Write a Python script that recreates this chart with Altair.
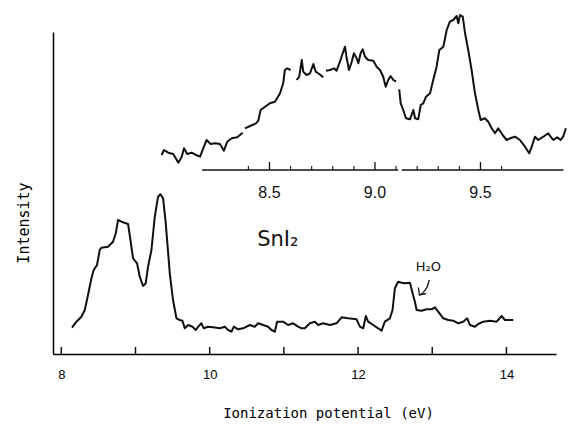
import altair as alt
import pandas as pd

# ---------------- data ----------------
# main spectrum: ionization potential (eV), intensity (arb.)
main_e = [8.144, 8.204, 8.271, 8.316, 8.360, 8.406, 8.437, 8.481, 8.518, 8.541, 8.630, 8.697,
          8.734, 8.765, 8.811, 8.900, 8.932, 8.967, 9.021, 9.057, 9.102, 9.138, 9.169, 9.215,
          9.260, 9.304, 9.336, 9.372, 9.408, 9.462, 9.506, 9.552, 9.597, 9.633, 9.664, 9.709,
          9.768, 9.813, 9.844, 9.889, 9.920, 9.978, 10.046, 10.136, 10.204, 10.248, 10.294,
          10.325, 10.383, 10.450, 10.541, 10.608, 10.653, 10.720, 10.788, 10.833, 10.878,
          10.909, 10.990, 11.057, 11.125, 11.192, 11.238, 11.283, 11.350, 11.418, 11.462,
          11.529, 11.620, 11.710, 11.778, 11.866, 11.980, 12.024, 12.069, 12.105, 12.136,
          12.204, 12.271, 12.317, 12.361, 12.429, 12.465, 12.496, 12.541, 12.587, 12.631,
          12.699, 12.735, 12.766, 12.789, 12.856, 12.924, 12.991, 13.036, 13.080, 13.148,
          13.215, 13.283, 13.350, 13.417, 13.471, 13.508, 13.575, 13.620, 13.687, 13.777,
          13.868, 13.935, 13.980, 14.047, 14.092]
main_i = [26.3, 32.3, 37.3, 44, 59, 75.7, 84, 89, 104, 106.3, 107.3, 112.3,
          120.7, 134, 132.3, 130, 114, 95.7, 90.7, 77.3, 68, 70.7, 87.3, 104,
          137.3, 157.3, 159.7, 155.7, 130.7, 80.7, 54, 35.7, 34, 33.3, 25.7, 29,
          27.3, 24, 27.3, 30.7, 25.7, 27.3, 26.7, 25.7, 27.3, 24, 22.3,
          27.3, 24.7, 25.7, 29, 27.3, 30.7, 29, 27.3, 24, 22.3,
          32.3, 32.3, 29, 30.7, 27.3, 25.7, 25.7, 30.7, 32.3, 29,
          30.7, 29, 30.7, 36.7, 35.7, 34.7, 27.3, 25.7, 38, 32.3,
          29, 25.7, 23.3, 32.3, 35.7, 44, 65.7, 72.3, 71.3, 70.7,
          71.3, 60.7, 52.3, 44, 43.3, 44.7, 44.7, 46.7, 42.3, 35.7,
          34, 33.3, 30.7, 32.3, 35.7, 29, 27.3, 30, 32.3, 33.3,
          32.3, 38, 34, 34, 34]

# inset (expanded 8-10 eV region), pen strokes numbered by segment
inset_seg = [1] * 21 + [2] * 13 + [3] * 10 + [4] * 26 + [5] * 51
inset_e = [7.989, 8.000, 8.020, 8.044, 8.068, 8.084, 8.095, 8.110, 8.131, 8.152, 8.171, 8.186,
           8.202, 8.221, 8.242, 8.265, 8.284, 8.300, 8.321, 8.347, 8.373,
           8.384, 8.408, 8.436, 8.447, 8.458, 8.479, 8.502, 8.526, 8.550, 8.565, 8.573, 8.584, 8.600,
           8.629, 8.641, 8.653, 8.660, 8.676, 8.692, 8.708, 8.719, 8.736, 8.755,
           8.768, 8.787, 8.806, 8.818, 8.834, 8.847, 8.858, 8.866, 8.877, 8.890, 8.900, 8.913,
           8.921, 8.932, 8.942, 8.953, 8.968, 8.992, 9.008, 9.024, 9.039, 9.051, 9.063, 9.074,
           9.087, 9.100,
           9.115, 9.122, 9.134, 9.147, 9.166, 9.182, 9.190, 9.205, 9.217, 9.229, 9.242, 9.261,
           9.276, 9.292, 9.305, 9.324, 9.340, 9.355, 9.371, 9.387, 9.395, 9.403, 9.416, 9.427,
           9.442, 9.458, 9.474, 9.490, 9.501, 9.521, 9.537, 9.553, 9.569, 9.584, 9.605, 9.624,
           9.640, 9.664, 9.687, 9.711, 9.731, 9.743, 9.758, 9.774, 9.798, 9.821, 9.845, 9.864,
           9.880, 9.892, 9.905]
inset_i = [15, 20, 17.3, 16, 7.3, 13.3, 21.7, 16, 17.3, 15, 13.3, 21.7,
           30, 26, 26.7, 26, 19.3, 28.3, 31.7, 32.7, 37.3,
           41.7, 44, 46.7, 49.3, 60, 63.3, 66.7, 68.3, 76.7, 86.7, 100, 101.7, 100,
           90, 93.3, 110, 98.3, 95, 96.7, 106, 98.3, 96, 92.7,
           99.3, 100, 101.7, 99.3, 108.3, 116.7, 123.3, 111.7, 100, 108.3, 116.7, 111.7,
           106.7, 116.7, 120.7, 113.3, 110, 109.3, 103.3, 100, 93.3, 83.3, 90, 94,
           90, 88.3,
           80.7, 66.7, 60, 51.7, 50.7, 60, 51.7, 50.7, 65, 66.7, 73.3, 76.7,
           90, 103.3, 120, 123.3, 140, 148.3, 150, 154, 146.7, 155, 153.3, 136.7,
           120, 100, 76.7, 60, 50, 51.7, 48.3, 41.7, 36.7, 41.7, 35, 30,
           31.7, 33.3, 30, 23.3, 16.7, 23.3, 33.3, 30, 33.3, 36.7, 30, 32.7,
           30, 33.3, 41.7]

main_tick_values = [8, 9, 10, 11, 12, 13, 14]
main_tick_labels = [8, 10, 12, 14]
inset_major_ticks = [8.5, 9.0, 9.5]
inset_minor_ticks = [8.4, 8.6, 8.7, 8.8, 8.9, 9.1, 9.2, 9.3, 9.4, 9.6]
inset_tick_labels = ["8.5", "9.0", "9.5"]
inset_axis_start = [8.181, 9.127]
inset_axis_end = [9.110, 9.893]

compound_label = ["SnI₂"]
compound_pos = [(10.918, 114)]
h2o_label = ["H₂O"]
h2o_pos = [(12.948, 87)]
arrow_e = [12.959, 12.941, 12.901, 12.827]
arrow_i = [74, 69, 63.5, 59]
arrowhead_e = [12.813, 12.827, 12.914]
arrowhead_i = [66.5, 59, 60.5]

# ---------------- scales ----------------
MAIN_X = [7.888, 14.668]
MAIN_Y = [0, 322]
IN_X = [7.474, 9.858]
IN_Y = [-184, 138]


def sx(d):
    return alt.Scale(domain=d, nice=False, zero=False)


INK = "#111111"

df_main = pd.DataFrame({"E": main_e, "I": main_i, "k": range(len(main_e))})
df_inset = pd.DataFrame({"E": inset_e, "I": inset_i, "seg": inset_seg,
                         "k": range(len(inset_e))})

main_line = alt.Chart(df_main).mark_line(color=INK, strokeWidth=2, strokeJoin="round").encode(
    x=alt.X("E:Q", scale=sx(MAIN_X), axis=alt.Axis(
        values=main_tick_labels, format="d", ticks=False, grid=False, labelFlush=False,
        labelFont="Liberation Sans", labelFontSize=13, labelColor="black", labelPadding=14,
        domainColor="black", domainWidth=1.5, orient="bottom",
        title="Ionization potential (eV)", titleFont="DejaVu Sans Mono", titleFontSize=14,
        titleFontWeight="normal", titleColor="black", titleX=275, titleY=59,
        titleAlign="center", titleBaseline="middle")),
    y=alt.Y("I:Q", scale=sx(MAIN_Y), axis=alt.Axis(
        ticks=False, labels=False, grid=False, domainColor="black", domainWidth=1.5,
        orient="left",
        title="Intensity", titleFont="DejaVu Sans Mono", titleFontSize=15,
        titleFontWeight="normal", titleColor="black", titleX=-29.5, titleY=190.5,
        titleAngle=270, titleAlign="center", titleBaseline="middle")),
    order="k:Q",
)

main_ticks = alt.Chart(pd.DataFrame({"E": main_tick_values})).transform_calculate(
    lo="0", hi="7"
).mark_rule(color=INK, strokeWidth=1.5).encode(
    x=alt.X("E:Q", scale=sx(MAIN_X), axis=None),
    y=alt.Y("lo:Q", scale=sx(MAIN_Y), axis=None),
    y2="hi:Q",
)

cx, cy = compound_pos[0]
compound = alt.Chart(pd.DataFrame({"E": [cx], "I": [cy], "t": compound_label})).mark_text(
    font="DejaVu Sans", fontSize=21, color=INK, align="center", baseline="middle").encode(
    x=alt.X("E:Q", scale=sx(MAIN_X), axis=None),
    y=alt.Y("I:Q", scale=sx(MAIN_Y), axis=None),
    text="t:N",
)

hx, hy = h2o_pos[0]
h2o = alt.Chart(pd.DataFrame({"E": [hx], "I": [hy], "t": h2o_label})).mark_text(
    font="DejaVu Sans", fontSize=13, color=INK, align="center", baseline="middle").encode(
    x=alt.X("E:Q", scale=sx(MAIN_X), axis=None),
    y=alt.Y("I:Q", scale=sx(MAIN_Y), axis=None),
    text="t:N",
)

arrow = alt.Chart(pd.DataFrame({"E": arrow_e, "I": arrow_i, "k": range(len(arrow_e))})).mark_line(
    color=INK, strokeWidth=1.3, interpolate="monotone").encode(
    x=alt.X("E:Q", scale=sx(MAIN_X), axis=None),
    y=alt.Y("I:Q", scale=sx(MAIN_Y), axis=None),
    order="k:Q",
)
arrowhead = alt.Chart(pd.DataFrame({"E": arrowhead_e, "I": arrowhead_i,
                                    "k": range(len(arrowhead_e))})).mark_line(
    color=INK, strokeWidth=1.3).encode(
    x=alt.X("E:Q", scale=sx(MAIN_X), axis=None),
    y=alt.Y("I:Q", scale=sx(MAIN_Y), axis=None),
    order="k:Q",
)

# ---------------- inset ----------------
inset_line = alt.Chart(df_inset).mark_line(color=INK, strokeWidth=2, strokeJoin="round").encode(
    x=alt.X("E:Q", scale=sx(IN_X), axis=None),
    y=alt.Y("I:Q", scale=sx(IN_Y), axis=None),
    detail="seg:N",
    order="k:Q",
)

inset_axis = alt.Chart(pd.DataFrame({"a": inset_axis_start, "b": inset_axis_end})).transform_calculate(
    z="0"
).mark_rule(color=INK, strokeWidth=1.5).encode(
    x=alt.X("a:Q", scale=sx(IN_X), axis=None),
    x2="b:Q",
    y=alt.Y("z:Q", scale=sx(IN_Y), axis=None),
)

inset_major = alt.Chart(pd.DataFrame({"E": inset_major_ticks})).transform_calculate(
    lo="0", hi="8"
).mark_rule(color=INK, strokeWidth=1.3).encode(
    x=alt.X("E:Q", scale=sx(IN_X), axis=None),
    y=alt.Y("lo:Q", scale=sx(IN_Y), axis=None),
    y2="hi:Q",
)
inset_minor = alt.Chart(pd.DataFrame({"E": inset_minor_ticks})).transform_calculate(
    lo="0", hi="4"
).mark_rule(color=INK, strokeWidth=1.1).encode(
    x=alt.X("E:Q", scale=sx(IN_X), axis=None),
    y=alt.Y("lo:Q", scale=sx(IN_Y), axis=None),
    y2="hi:Q",
)
inset_labels = alt.Chart(pd.DataFrame({"E": inset_major_ticks, "t": inset_tick_labels})).transform_calculate(
    ly="-23"
).mark_text(
    font="Liberation Sans", fontSize=16, color=INK, align="center", baseline="middle").encode(
    x=alt.X("E:Q", scale=sx(IN_X), axis=None),
    y=alt.Y("ly:Q", scale=sx(IN_Y), axis=None),
    text="t:N",
)

chart = alt.layer(
    main_line, main_ticks, compound, h2o, arrow, arrowhead,
    inset_line, inset_axis, inset_major, inset_minor, inset_labels,
).resolve_scale(
    x="independent", y="independent"
).properties(
    width=503, height=322,
    autosize=alt.AutoSizeParams(type="none"),
    padding={"left": 53, "top": 32, "right": 12, "bottom": 70},
    background="white",
).configure_view(stroke=None)

chart.save("out.html", embed_options={"renderer": "svg", "actions": False})
